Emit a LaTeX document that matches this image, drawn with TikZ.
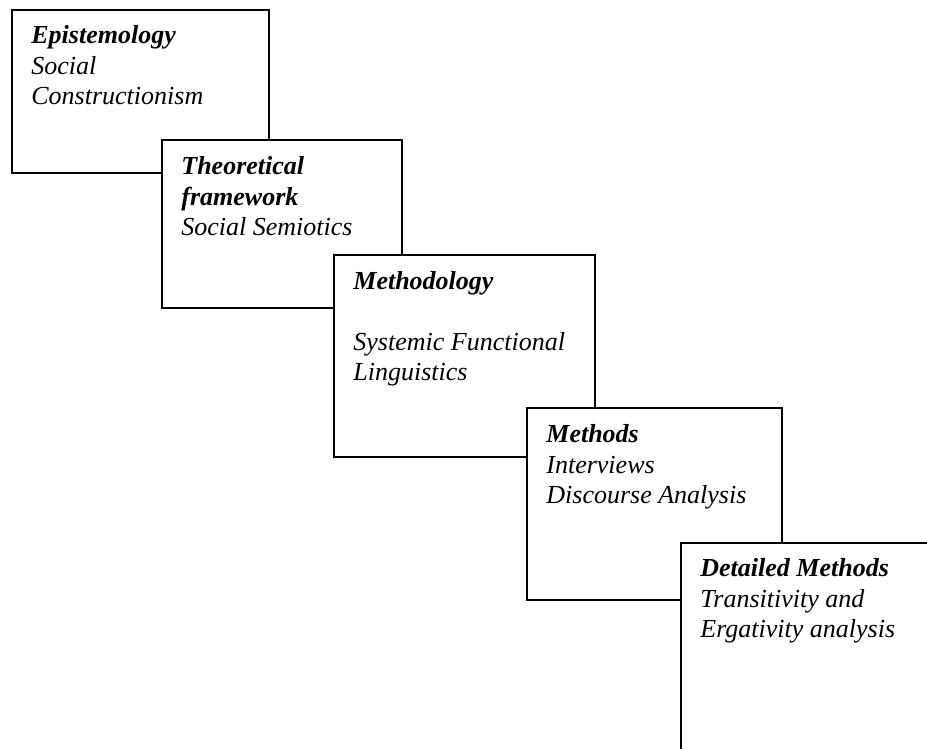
\documentclass[tikz,border=0pt]{standalone}
\usepackage{fontspec}
\setmainfont{Liberation Serif}
\usetikzlibrary{fit}
\tikzset{
  stagebox/.style={draw, line width=1pt, fill=white, inner sep=0pt},
  stagetext/.style={anchor=north west, inner sep=0pt, align=left,
    font=\fontsize{13}{15.2}\selectfont\itshape},
}
\begin{document}
\begin{tikzpicture}[x=0.5pt, y=-0.5pt]
  \clip (0,0) rectangle (927,749);
  \fill[white] (0,0) rectangle (927,749);
  % stages, each one laid over the corner of the one before
  \node[stagebox, fit={(12,10) (269,173)}] (epist) {};
  \node[stagetext] (epistText) at ([shift={(20,13)}]epist.north west)
    {\strut\textbf{Epistemology}\\Social\\Constructionism};
  \node[stagebox, fit={(162,140) (402,308)}] (theory) {};
  \node[stagetext] (theoryText) at ([shift={(20,14)}]theory.north west)
    {\strut\textbf{Theoretical}\\\textbf{framework}\\Social Semiotics};
  \node[stagebox, fit={(334,255) (595,457)}] (methodology) {};
  \node[stagetext] (methodologyText) at ([shift={(20,14)}]methodology.north west)
    {\strut\textbf{Methodology}\\[15.2pt]Systemic Functional\\Linguistics};
  \node[stagebox, fit={(527,408) (782,600)}] (methods) {};
  \node[stagetext] (methodsText) at ([shift={(20,14)}]methods.north west)
    {\strut\textbf{Methods}\\Interviews\\Discourse Analysis};
  \node[stagebox, fit={(681,543) (980,800)}] (detail) {};
  \node[stagetext] (detailText) at ([shift={(20,13)}]detail.north west)
    {\strut\textbf{Detailed Methods}\\Transitivity and\\Ergativity analysis};
\end{tikzpicture}
\end{document}
